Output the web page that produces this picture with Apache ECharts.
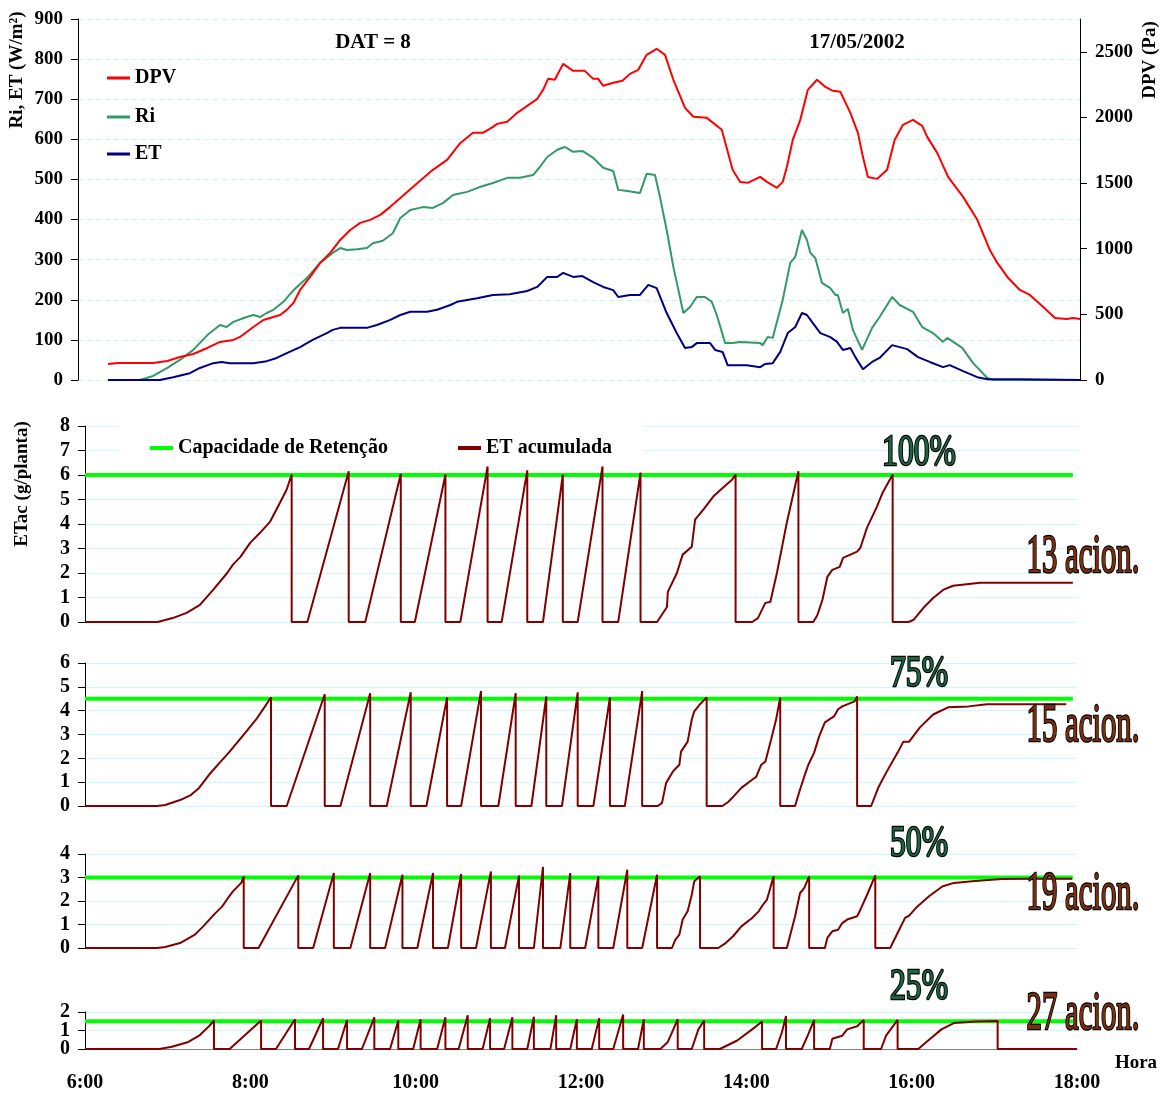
<!DOCTYPE html>
<html>
<head>
<meta charset="utf-8">
<title>DAT = 8 — 17/05/2002</title>
<script src="https://cdn.jsdelivr.net/npm/echarts@6/dist/echarts.min.js"></script>
<style>
  html, body { margin: 0; padding: 0; background: #fff; }
  #chart { width: 1166px; height: 1093px; }
</style>
</head>
<body>
<div id="chart"></div>
<script>
// ---- Upper panel: [hour, value] ----
const dpvPa = [[6.36,122],[6.48,130],[6.90,130],[7.07,145],[7.22,175],[7.38,198],[7.55,244],[7.70,290],[7.86,305],[7.94,328],[8.10,404],[8.22,457],[8.34,480],[8.42,495],[8.50,534],[8.58,587],[8.66,686],[8.78,785],[8.90,892],[9.02,968],[9.14,1067],[9.26,1143],[9.38,1197],[9.50,1220],[9.62,1258],[9.74,1319],[9.86,1387],[10.01,1471],[10.25,1601],[10.42,1677],[10.58,1806],[10.73,1883],[10.85,1883],[10.97,1928],[11.02,1951],[11.14,1967],[11.26,2035],[11.38,2088],[11.50,2142],[11.57,2210],[11.63,2294],[11.71,2287],[11.81,2408],[11.93,2355],[12.07,2355],[12.17,2294],[12.23,2294],[12.29,2241],[12.41,2264],[12.52,2279],[12.61,2332],[12.71,2363],[12.81,2477],[12.93,2523],[13.03,2477],[13.13,2287],[13.27,2073],[13.37,2005],[13.53,1997],[13.71,1906],[13.84,1601],[13.93,1509],[14.02,1502],[14.17,1547],[14.25,1509],[14.37,1464],[14.44,1509],[14.49,1624],[14.56,1829],[14.65,1982],[14.74,2210],[14.85,2287],[14.95,2233],[15.04,2203],[15.13,2195],[15.25,2035],[15.34,1883],[15.40,1700],[15.46,1547],[15.57,1532],[15.69,1601],[15.78,1829],[15.88,1944],[16.00,1982],[16.11,1936],[16.17,1852],[16.29,1730],[16.42,1547],[16.60,1395],[16.77,1220],[16.92,991],[17.01,892],[17.13,785],[17.28,686],[17.40,648],[17.56,556],[17.70,473],[17.84,465],[17.92,473],[18.0,465]];

const riWm2 = [[6.36,0],[6.74,0],[6.90,10],[7.07,30],[7.22,50],[7.38,75],[7.55,112],[7.70,137],[7.78,132],[7.86,145],[8.02,157],[8.10,162],[8.18,157],[8.26,167],[8.34,175],[8.46,195],[8.58,224],[8.74,254],[8.90,292],[9.05,317],[9.14,329],[9.22,324],[9.34,326],[9.46,329],[9.53,341],[9.65,347],[9.77,366],[9.86,404],[9.98,424],[10.13,431],[10.25,429],[10.37,441],[10.49,461],[10.66,469],[10.81,481],[10.97,491],[11.14,504],[11.29,504],[11.45,511],[11.53,531],[11.62,556],[11.74,574],[11.83,581],[11.93,569],[12.04,571],[12.17,554],[12.29,529],[12.41,521],[12.47,474],[12.58,471],[12.73,466],[12.81,514],[12.91,511],[12.97,456],[13.05,374],[13.13,282],[13.25,167],[13.33,182],[13.41,207],[13.51,207],[13.59,195],[13.65,162],[13.75,92],[13.84,92],[13.93,95],[14.17,92],[14.20,87],[14.26,107],[14.32,105],[14.44,200],[14.53,292],[14.59,307],[14.67,374],[14.73,349],[14.77,317],[14.83,304],[14.91,242],[15.01,229],[15.07,212],[15.10,212],[15.16,167],[15.22,177],[15.28,125],[15.39,75],[15.51,130],[15.60,157],[15.75,207],[15.84,187],[16.00,170],[16.11,132],[16.24,117],[16.36,95],[16.41,105],[16.59,80],[16.72,42],[16.89,5],[16.96,0],[18.0,0]];

const etWm2 = [[6.36,0],[6.98,0],[7.14,7],[7.34,17],[7.46,30],[7.62,42],[7.72,45],[7.82,42],[7.94,42],[8.10,42],[8.26,47],[8.38,55],[8.50,67],[8.66,82],[8.81,100],[8.98,117],[9.05,125],[9.14,130],[9.29,130],[9.46,130],[9.58,137],[9.74,150],[9.86,162],[9.98,170],[10.18,170],[10.30,175],[10.46,187],[10.54,195],[10.78,204],[10.97,212],[11.17,214],[11.38,222],[11.50,232],[11.62,257],[11.74,257],[11.81,267],[11.93,257],[12.04,259],[12.17,244],[12.29,232],[12.41,224],[12.47,207],[12.61,212],[12.73,212],[12.83,237],[12.93,229],[13.05,167],[13.17,117],[13.27,80],[13.35,82],[13.41,92],[13.57,92],[13.63,75],[13.72,70],[13.78,37],[14.01,37],[14.17,32],[14.23,40],[14.32,42],[14.41,70],[14.50,117],[14.59,132],[14.67,167],[14.73,162],[14.79,145],[14.89,117],[15.01,107],[15.09,95],[15.16,75],[15.25,80],[15.31,57],[15.40,27],[15.51,45],[15.60,55],[15.75,87],[15.93,77],[16.06,57],[16.20,45],[16.36,32],[16.44,37],[16.60,22],[16.77,7],[16.89,2],[17.28,2],[18.0,0]];

// ---- Accumulated ET (g/planta) per retention level: [hour, value] ----
const etac100 = [[6,0],[6.88,0],[7.06,0.16],[7.23,0.37],[7.39,0.7],[7.55,1.31],[7.72,2.0],[7.79,2.34],[7.88,2.66],[8.0,3.24],[8.12,3.65],[8.24,4.1],[8.36,4.88],[8.44,5.41],[8.5,6.02],
[8.5,0],[8.69,0],[9.19,6.15],
[9.19,0],[9.39,0],[9.82,6.05],
[9.82,0],[9.99,0],[10.36,6.02],
[10.36,0],[10.54,0],[10.87,6.35],
[10.87,0],[11.04,0],[11.35,6.19],
[11.35,0],[11.54,0],[11.78,6.02],
[11.78,0],[11.96,0],[12.26,6.35],
[12.26,0],[12.45,0],[12.72,6.1],
[12.72,0],[12.92,0],[13.04,0.61],[13.05,1.23],[13.16,2.0],[13.23,2.75],[13.34,3.07],[13.38,4.18],[13.48,4.59],[13.6,5.12],[13.72,5.49],[13.83,5.82],[13.87,6.02],
[13.87,0],[14.07,0],[14.14,0.16],[14.23,0.78],[14.29,0.82],[14.37,2.0],[14.49,4.06],[14.63,6.15],
[14.63,0],[14.81,0],[14.86,0.29],[14.92,0.9],[14.98,1.84],[15.04,2.13],[15.13,2.25],[15.17,2.62],[15.34,2.87],[15.38,3.03],[15.46,3.85],[15.58,4.71],[15.65,5.29],[15.77,6.02],
[15.77,0],[15.96,0],[16.02,0.08],[16.14,0.57],[16.26,0.98],[16.38,1.31],[16.5,1.48],[16.83,1.6],[17.23,1.6],[17.95,1.6]];

const etac75 = [[6,0],[6.87,0],[6.97,0.04],[7.15,0.25],[7.28,0.46],[7.38,0.76],[7.5,1.31],[7.63,1.82],[7.75,2.28],[7.84,2.66],[7.94,3.08],[8.07,3.63],[8.17,4.14],[8.25,4.56],
[8.25,0],[8.44,0],[8.9,4.69],
[8.9,0],[9.09,0],[9.45,4.73],
[9.45,0],[9.65,0],[9.94,4.77],
[9.94,0],[10.13,0],[10.38,4.56],
[10.38,0],[10.55,0],[10.79,4.82],
[10.79,0],[11.0,0],[11.21,4.73],
[11.21,0],[11.4,0],[11.58,4.6],
[11.58,0],[11.77,0],[11.96,4.77],
[11.96,0],[12.15,0],[12.35,4.56],
[12.35,0],[12.53,0],[12.74,4.82],
[12.74,0],[12.93,0],[12.98,0.13],[13.03,0.97],[13.11,1.44],[13.19,1.73],[13.21,2.28],[13.29,2.7],[13.34,3.63],[13.37,3.97],[13.44,4.27],[13.52,4.56],
[13.52,0],[13.71,0],[13.78,0.17],[13.84,0.38],[13.94,0.76],[14.07,1.1],[14.12,1.23],[14.18,1.73],[14.23,1.86],[14.3,2.79],[14.36,3.63],[14.41,4.56],
[14.41,0],[14.59,0],[14.64,0.59],[14.7,1.23],[14.75,1.73],[14.82,2.24],[14.88,2.91],[14.95,3.51],[15.06,3.76],[15.11,4.06],[15.16,4.18],[15.31,4.39],[15.34,4.6],
[15.34,0],[15.51,0],[15.6,0.8],[15.69,1.39],[15.83,2.24],[15.9,2.7],[15.97,2.7],[16.1,3.3],[16.26,3.84],[16.44,4.14],[16.69,4.18],[16.91,4.27],[17.87,4.27]];

const etac50 = [[6,0],[6.87,0],[6.97,0.04],[7.15,0.21],[7.33,0.57],[7.43,0.92],[7.56,1.42],[7.66,1.77],[7.73,2.13],[7.79,2.41],[7.89,2.77],[7.92,3.05],
[7.92,0],[8.1,0],[8.58,3.09],
[8.58,0],[8.76,0],[9.01,3.19],
[9.01,0],[9.21,0],[9.45,3.19],
[9.45,0],[9.63,0],[9.84,3.12],
[9.84,0],[10.02,0],[10.21,3.19],
[10.21,0],[10.39,0],[10.55,3.15],
[10.55,0],[10.73,0],[10.91,3.26],
[10.91,0],[11.08,0],[11.25,3.08],
[11.25,0],[11.43,0],[11.54,3.45],
[11.54,0],[11.75,0],[11.87,3.19],
[11.87,0],[12.05,0],[12.21,3.05],
[12.21,0],[12.39,0],[12.56,3.33],
[12.56,0],[12.74,0],[12.92,3.12],
[12.92,0],[13.1,0],[13.14,0.35],[13.19,0.57],[13.23,1.21],[13.29,1.56],[13.34,2.27],[13.37,2.84],[13.44,3.05],
[13.44,0],[13.66,0],[13.75,0.21],[13.84,0.5],[13.94,0.92],[14.07,1.28],[14.15,1.56],[14.2,1.84],[14.25,2.06],[14.27,2.13],[14.33,3.05],
[14.33,0],[14.49,0],[14.59,1.35],[14.65,2.34],[14.7,2.55],[14.76,3.05],
[14.76,0],[14.95,0],[14.98,0.43],[15.04,0.71],[15.11,0.78],[15.16,1.06],[15.22,1.21],[15.34,1.35],[15.38,1.63],[15.47,2.34],[15.56,3.09],
[15.56,0],[15.74,0],[15.83,0.64],[15.92,1.28],[15.97,1.38],[16.05,1.7],[16.21,2.2],[16.37,2.62],[16.51,2.77],[16.73,2.84],[17.09,2.94],[17.41,2.95],[17.94,2.95]];

const etac25 = [[6,0],[6.9,0],[7.05,0.12],[7.25,0.38],[7.38,0.72],[7.5,1.23],[7.56,1.54],
[7.56,0],[7.75,0],[8.13,1.54],
[8.13,0],[8.31,0],[8.54,1.61],
[8.54,0],[8.71,0],[8.88,1.66],
[8.88,0],[9.06,0],[9.17,1.57],
[9.17,0],[9.35,0],[9.5,1.71],
[9.5,0],[9.69,0],[9.79,1.54],
[9.79,0],[9.97,0],[10.06,1.61],
[10.06,0],[10.26,0],[10.36,1.71],
[10.36,0],[10.52,0],[10.63,1.83],
[10.63,0],[10.81,0],[10.9,1.66],
[10.9,0],[11.07,0],[11.17,1.71],
[11.17,0],[11.35,0],[11.43,1.74],
[11.43,0],[11.63,0],[11.7,1.83],
[11.7,0],[11.87,0],[11.95,1.61],
[11.95,0],[12.13,0],[12.22,1.66],
[12.22,0],[12.39,0],[12.51,1.86],
[12.51,0],[12.69,0],[12.76,1.61],
[12.76,0],[12.96,0],[13.05,0.38],[13.1,0.89],[13.17,1.61],
[13.17,0],[13.34,0],[13.42,1.06],[13.49,1.54],
[13.49,0],[13.68,0],[13.89,0.46],[14.07,1.06],[14.19,1.49],
[14.19,0],[14.36,0],[14.43,0.89],[14.48,1.78],
[14.48,0],[14.67,0],[14.75,0.8],[14.82,1.57],
[14.82,0],[15.01,0],[15.04,0.55],[15.16,0.72],[15.22,1.06],[15.34,1.23],[15.42,1.57],
[15.42,0],[15.63,0],[15.69,0.72],[15.83,1.57],
[15.83,0],[16.08,0],[16.2,0.46],[16.36,1.06],[16.51,1.4],[16.78,1.49],[17.04,1.52],
[17.04,0],[18.0,0]];

// Retention capacity per panel (g/planta), panel labels and irrigation counts
const capacity = [6, 4.5, 3, 1.5];
const levelLabels = ['100%', '75%', '50%', '25%'];
const acionLabels = ['13 acion.', '15 acion.', '19 acion.', '27 acion.'];
const etacSeries = [etac100, etac75, etac50, etac25];
const etacMax = [8, 6, 4, 2];
const dpvTicks = [0, 500, 1000, 1500, 2000, 2500];
const hourTicks = [6, 8, 10, 12, 14, 16, 18];

const FONT = '"Liberation Serif", "Times New Roman", serif';
const labelStyle = { color: '#000', fontFamily: FONT, fontWeight: 'bold', fontSize: 19 };

// panel geometry
const grids = [
  { left: 78, top: 19, width: 1002, height: 361 },
  { left: 85, top: 426, width: 992, height: 196 },
  { left: 85, top: 663, width: 992, height: 143 },
  { left: 85, top: 854, width: 992, height: 94 },
  { left: 85, top: 1012, width: 992, height: 39 }
];

const xAxes = grids.map((g, i) => ({
  type: 'value', gridIndex: i, min: hourTicks[0], max: hourTicks[hourTicks.length - 1], interval: 2,
  axisLine: { show: i === 4, onZero: false, lineStyle: { color: '#808080', width: 1 } },
  axisTick: { show: false },
  splitLine: { show: false },
  axisLabel: { show: i === 4, ...labelStyle, fontSize: 20, margin: 24,
    showMinLabel: true, showMaxLabel: true, formatter: v => v + ':00' }
}));

const yAxisBase = {
  type: 'value',
  axisLine: { show: true, lineStyle: { color: '#000', width: 1 } },
  axisTick: { show: true, inside: false, length: 7, lineStyle: { color: '#000' } },
  axisLabel: { ...labelStyle, margin: 15, showMinLabel: true, showMaxLabel: true,
    hideOverlap: false, formatter: v => String(v) }
};

// integer ticks of a panel; the shallow 25% panel splits its labels over two
// stacked axes so that the tightly packed numbers are all kept
const unitTicks = m => Array.from({ length: m + 1 }, (_, j) => j);

const yAxes = [
  { ...yAxisBase, gridIndex: 0, position: 'left', min: 0, max: 900, interval: 100,
    splitLine: { show: true, lineStyle: { color: '#c4f4f4', type: [5, 4], width: 1 } } },
  { ...yAxisBase, gridIndex: 0, position: 'right', min: 0, max: 2750, interval: 500,
    axisTick: { ...yAxisBase.axisTick, customValues: dpvTicks },
    axisLabel: { ...yAxisBase.axisLabel, customValues: dpvTicks },
    splitLine: { show: false } }
].concat(etacMax.map((m, k) => {
  const ticks = unitTicks(m);
  const shown = k === 3 ? ticks.filter(v => v % 2 === 0) : ticks;
  return {
    ...yAxisBase, gridIndex: k + 1, position: 'left', min: 0, max: m, interval: 1,
    axisTick: { ...yAxisBase.axisTick, customValues: ticks },
    axisLabel: { ...yAxisBase.axisLabel, fontSize: 20, customValues: shown },
    splitLine: { show: true, lineStyle: { color: '#cdf8f8', width: 1 } }
  };
}));

// companion axis on the 25% panel carrying its odd labels
yAxes.push({
  ...yAxisBase, gridIndex: 4, position: 'left', min: 0, max: etacMax[3], interval: 1,
  axisLine: { show: false }, axisTick: { show: false }, splitLine: { show: false },
  axisLabel: { ...yAxisBase.axisLabel, fontSize: 20,
    customValues: unitTicks(etacMax[3]).filter(v => v % 2 === 1) }
});

const lineBase = { type: 'line', showSymbol: false, symbol: 'none', animation: false, silent: true };

const series = [
  { ...lineBase, name: 'DPV', xAxisIndex: 0, yAxisIndex: 1, data: dpvPa, color: '#ff0000', lineStyle: { width: 2, color: '#ff0000' }, z: 3 },
  { ...lineBase, name: 'Ri', xAxisIndex: 0, yAxisIndex: 0, data: riWm2, color: '#339966', lineStyle: { width: 2, color: '#339966' }, z: 2 },
  { ...lineBase, name: 'ET', xAxisIndex: 0, yAxisIndex: 0, data: etWm2, color: '#000080', lineStyle: { width: 2, color: '#000080' }, z: 2 }
];

capacity.forEach((c, k) => {
  series.push({ ...lineBase, name: 'Capacidade de Retenção', xAxisIndex: k + 1, yAxisIndex: k + 2,
    data: [[6, c], [17.95, c]], color: '#00ff00', lineStyle: { width: 4, color: '#00ff00' }, z: 2 });
  series.push({ ...lineBase, name: 'ET acumulada', xAxisIndex: k + 1, yAxisIndex: k + 2,
    data: etacSeries[k], color: '#800000', lineStyle: { width: 2, color: '#800000' }, z: 3 });
});

const legendText = { ...labelStyle, fontSize: 20 };
const legendCommon = { orient: 'horizontal', padding: 0, itemWidth: 23, itemHeight: 3, icon: 'rect',
  selectedMode: false, textStyle: legendText };

const legends = [
  { ...legendCommon, data: ['DPV'], left: 107, top: 68 },
  { ...legendCommon, data: ['Ri'], left: 107, top: 107 },
  { ...legendCommon, data: ['ET'], left: 107, top: 144 },
  { ...legendCommon, data: ['Capacidade de Retenção', 'ET acumulada'], left: 117, top: 426,
    padding: [12, 32, 8, 33], itemGap: 70, itemHeight: 4, backgroundColor: '#fff' }
];

function txt(x, y, text, font, extra) {
  return Object.assign({ type: 'text', x: x, y: y, silent: true, z: 50,
    style: Object.assign({ text: text, font: font, fill: '#000',
      textAlign: 'center', textVerticalAlign: 'middle', align: 'center', verticalAlign: 'middle' }, (extra && extra.style) || {}) },
    (extra && extra.el) || {});
}

const boldTitle = 'bold 21px ' + FONT;
const boldAxisName = 'bold 19px ' + FONT;
const levelY = [453, 674, 844, 987];
const acionY = [558, 727, 895, 1015];

const graphics = [
  txt(373, 43, 'DAT = 8', boldTitle),
  txt(857, 43, '17/05/2002', boldTitle),
  txt(17, 70, 'Ri, ET (W/m²)', boldAxisName, { el: { rotation: Math.PI / 2 } }),
  txt(1150, 60, 'DPV (Pa)', boldAxisName, { el: { rotation: Math.PI / 2 } }),
  txt(22, 484, 'ETac (g/planta)', boldAxisName, { el: { rotation: Math.PI / 2 } }),
  txt(1136, 1063, 'Hora', 'bold 19px ' + FONT)
];
levelLabels.forEach((t, k) => {
  graphics.push(txt(919, levelY[k], t, '44px ' + FONT,
    { el: { scaleX: 0.72 }, style: { fill: '#1b6642', stroke: '#000', lineWidth: 2.5 } }));
  graphics.push(txt(1083, acionY[k], acionLabels[k], '54px ' + FONT,
    { el: { scaleX: 0.57 }, style: { fill: '#7a2e0c', stroke: '#000', lineWidth: 2.5 } }));
});

const chart = echarts.init(document.getElementById('chart'), null, { renderer: 'canvas' });
chart.setOption({
  animation: false,
  backgroundColor: '#fff',
  textStyle: { fontFamily: FONT },
  grid: grids,
  xAxis: xAxes,
  yAxis: yAxes,
  legend: legends,
  series: series,
  graphic: graphics
});
</script>
</body>
</html>
